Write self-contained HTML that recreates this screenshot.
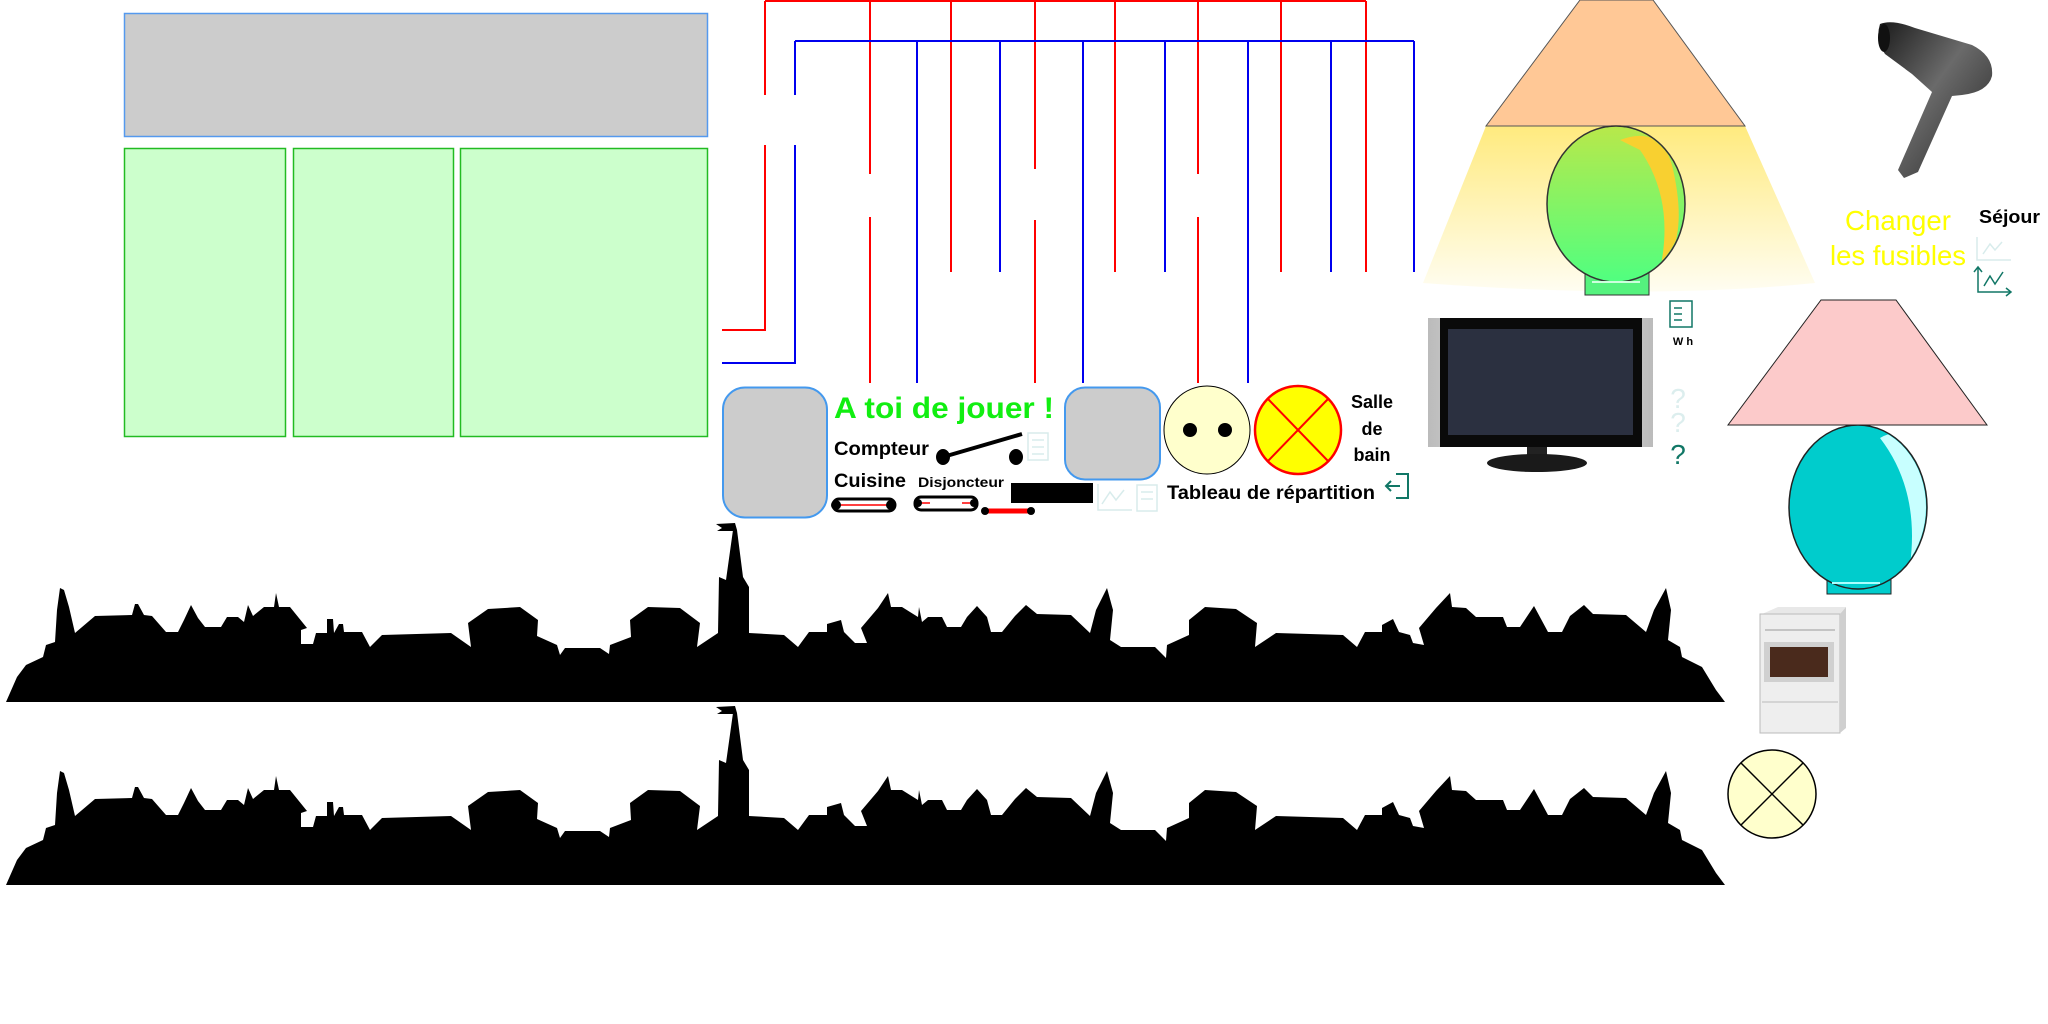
<!DOCTYPE html>
<html><head><meta charset="utf-8"><style>
html,body{margin:0;padding:0;background:#fff;width:2048px;height:1024px;overflow:hidden}
svg{display:block}
text{font-family:"Liberation Sans",Arial,sans-serif}
</style></head><body>
<svg width="2048" height="1024" viewBox="0 0 2048 1024" xmlns="http://www.w3.org/2000/svg">
<defs>
<linearGradient id="cone" x1="0" y1="0" x2="0" y2="1">
<stop offset="0" stop-color="#ffe870"/><stop offset="1" stop-color="#fffdf0"/></linearGradient>
<linearGradient id="glob" x1="0" y1="0" x2="0" y2="1">
<stop offset="0" stop-color="#b8e84a"/><stop offset="1" stop-color="#50ff80"/></linearGradient>
<linearGradient id="dry" x1="0" y1="0" x2="1" y2="1">
<stop offset="0" stop-color="#1a1a1a"/><stop offset="0.45" stop-color="#6a6a6a"/><stop offset="1" stop-color="#222"/></linearGradient>
<linearGradient id="spk" x1="0" y1="0" x2="1" y2="0">
<stop offset="0" stop-color="#bbb"/><stop offset="0.5" stop-color="#eee"/><stop offset="1" stop-color="#bbb"/></linearGradient>
<clipPath id="c1"><ellipse cx="1616" cy="204" rx="68" ry="77"/></clipPath>
<clipPath id="c2"><ellipse cx="1858" cy="507" rx="68" ry="81"/></clipPath>
<g id="sky">
<path fill="#000" d="M0,702 L6,702 L17,677 L26,665 L43,657 L46,645 L55,642 L57,610 L60,588 L64,590 L69,607 L75,633 L95,616 L132,615 L135,604 L138,604 L144,615 L152,616 L166,632 L178,632 L184,620 L191,605 L198,618 L205,627 L221,627 L227,617 L238,617 L244,622 L248,605 L253,616 L264,607 L274,607 L276,593 L279,607 L290,607 L307,628 L301,630 L301,644 L313,644 L316,633 L327,633 L327,619 L333,619 L334,633 L339,624 L343,624 L344,632 L362,632 L370,647 L382,635 L451,633 L471,647 L468,623 L488,609 L520,607 L538,620 L537,636 L557,645 L560,655 L565,648 L600,648 L609,654 L610,645 L631,637 L630,620 L648,607 L680,608 L700,623 L697,647 L718,633 L719,577 L726,580 L733,530 L735,523 L737,530 L743,577 L749,587 L749,633 L784,635 L798,647 L809,632 L827,632 L827,624 L841,620 L844,632 L855,643 L867,643 L861,628 L878,608 L888,593 L891,607 L902,607 L918,617 L919,607 L922,622 L928,617 L942,617 L947,627 L961,627 L967,617 L977,606 L987,617 L991,632 L1002,632 L1015,616 L1026,605 L1037,614 L1071,615 L1090,633 L1096,610 L1107,588 L1113,610 L1110,640 L1121,647 L1155,647 L1166,658 L1167,645 L1189,635 L1189,620 L1205,607 L1236,609 L1257,623 L1255,647 L1276,633 L1343,635 L1357,647 L1365,632 L1382,632 L1382,625 L1393,619 L1399,632 L1410,635 L1413,643 L1424,645 L1419,628 L1436,608 L1450,593 L1452,607 L1466,608 L1476,617 L1486,617 L1503,617 L1507,627 L1520,627 L1534,606 L1548,632 L1562,632 L1570,616 L1584,605 L1593,614 L1626,615 L1646,632 L1654,610 L1666,588 L1671,610 L1668,640 L1680,647 L1682,657 L1702,667 L1716,690 L1725,702 Z"/>
<path fill="#000" d="M735,523 L716,524 L722,528 L717,531 L735,531 Z"/>
</g>
</defs>

<rect x="124.5" y="13.5" width="583" height="123" fill="#cccccc" stroke="#5599ee" stroke-width="1.5"/>
<rect x="124.5" y="148.5" width="161" height="288" fill="#ccffcc" stroke="#22bb22" stroke-width="1.5"/>
<rect x="293.5" y="148.5" width="160" height="288" fill="#ccffcc" stroke="#22bb22" stroke-width="1.5"/>
<rect x="460.5" y="148.5" width="247" height="288" fill="#ccffcc" stroke="#22bb22" stroke-width="1.5"/>

<g fill="none" stroke-width="2">
<g stroke="#ff0000">
<line x1="765" y1="1" x2="1366" y2="1"/>
<line x1="765" y1="1" x2="765" y2="95"/><polyline points="765,145 765,330 722,330"/>
<line x1="870" y1="1" x2="870" y2="174"/><line x1="870" y1="217" x2="870" y2="383"/>
<line x1="951" y1="1" x2="951" y2="272"/>
<line x1="1035" y1="1" x2="1035" y2="169"/><line x1="1035" y1="220" x2="1035" y2="383"/>
<line x1="1115" y1="1" x2="1115" y2="272"/>
<line x1="1198" y1="1" x2="1198" y2="174"/><line x1="1198" y1="217" x2="1198" y2="383"/>
<line x1="1281" y1="1" x2="1281" y2="272"/>
<line x1="1366" y1="1" x2="1366" y2="272"/>
</g>
<g stroke="#0000ee">
<line x1="795" y1="41" x2="1414" y2="41"/>
<line x1="795" y1="41" x2="795" y2="95"/><polyline points="795,145 795,363 722,363"/>
<line x1="917" y1="41" x2="917" y2="383"/>
<line x1="1000" y1="41" x2="1000" y2="272"/>
<line x1="1083" y1="41" x2="1083" y2="383"/>
<line x1="1165" y1="41" x2="1165" y2="272"/>
<line x1="1248" y1="41" x2="1248" y2="383"/>
<line x1="1331" y1="41" x2="1331" y2="272"/>
<line x1="1414" y1="41" x2="1414" y2="272"/>
</g>
</g>

<rect x="723" y="387.5" width="104" height="130" rx="22" fill="#cccccc" stroke="#4499ee" stroke-width="2"/>
<rect x="1065" y="387.5" width="95" height="92" rx="20" fill="#cccccc" stroke="#4499ee" stroke-width="2"/>
<text x="834" y="418" font-size="30" font-weight="bold" fill="#11ee11" textLength="220" lengthAdjust="spacingAndGlyphs">A toi de jouer !</text>
<text x="834" y="455" font-size="19" font-weight="bold" fill="#000" textLength="95" lengthAdjust="spacingAndGlyphs">Compteur</text>
<text x="834" y="487" font-size="19" font-weight="bold" fill="#000" textLength="72" lengthAdjust="spacingAndGlyphs">Cuisine</text>
<text x="918" y="487" font-size="14" font-weight="bold" fill="#000" textLength="86" lengthAdjust="spacingAndGlyphs">Disjoncteur</text>
<line x1="943" y1="457" x2="1022" y2="434" stroke="#000" stroke-width="4"/>
<ellipse cx="943" cy="457" rx="7" ry="8" fill="#000"/>
<ellipse cx="1016" cy="457" rx="7" ry="8" fill="#000"/>
<g stroke="#d8ecec" fill="none" stroke-width="1.5">
<rect x="1028" y="433" width="20" height="27"/><line x1="1032" y1="440" x2="1044" y2="440"/><line x1="1032" y1="447" x2="1044" y2="447"/><line x1="1032" y1="454" x2="1044" y2="454"/>
<polyline points="1098,484 1098,510 1132,510"/><polyline points="1102,504 1110,492 1116,500 1124,490"/>
<rect x="1137" y="485" width="20" height="26"/><line x1="1141" y1="492" x2="1153" y2="492"/><line x1="1141" y1="499" x2="1153" y2="499"/>
</g>
<rect x="833" y="499" width="62" height="12" rx="6" fill="#fff" stroke="#000" stroke-width="3"/>
<line x1="836" y1="505" x2="892" y2="505" stroke="#ff0000" stroke-width="1.5"/>
<circle cx="836" cy="505" r="5" fill="#000"/><circle cx="891" cy="505" r="5" fill="#000"/>
<rect x="915" y="497" width="62" height="13" rx="6" fill="#fff" stroke="#000" stroke-width="3"/>
<line x1="920" y1="503" x2="930" y2="503" stroke="#ff0000" stroke-width="1.5"/><line x1="962" y1="503" x2="972" y2="503" stroke="#ff0000" stroke-width="1.5"/>
<circle cx="918" cy="503" r="4" fill="#000"/><circle cx="974" cy="503" r="4" fill="#000"/>
<line x1="985" y1="511" x2="1031" y2="511" stroke="#ff0000" stroke-width="5"/>
<circle cx="985" cy="511" r="4" fill="#000"/><circle cx="1031" cy="511" r="4" fill="#000"/>
<rect x="1011" y="483" width="82" height="20" fill="#000"/>
<ellipse cx="1207" cy="430" rx="43" ry="44" fill="#ffffcc" stroke="#000" stroke-width="1"/>
<circle cx="1190" cy="430" r="7" fill="#000"/><circle cx="1225" cy="430" r="7" fill="#000"/>
<ellipse cx="1298" cy="430" rx="43" ry="44" fill="#ffff00" stroke="#ff0000" stroke-width="2.5"/>
<line x1="1268" y1="399" x2="1328" y2="461" stroke="#ff0000" stroke-width="2"/>
<line x1="1328" y1="399" x2="1268" y2="461" stroke="#ff0000" stroke-width="2"/>
<text x="1372" y="408" font-size="18" font-weight="bold" text-anchor="middle">Salle</text>
<text x="1372" y="435" font-size="18" font-weight="bold" text-anchor="middle">de</text>
<text x="1372" y="461" font-size="18" font-weight="bold" text-anchor="middle">bain</text>
<text x="1167" y="499" font-size="19" font-weight="bold" textLength="208" lengthAdjust="spacingAndGlyphs">Tableau de répartition</text>
<g stroke="#117766" stroke-width="2" fill="none">
<polyline points="1396,474 1408,474 1408,498 1396,498"/><line x1="1386" y1="486" x2="1400" y2="486"/><polyline points="1391,481 1386,486 1391,491"/>
</g>

<!-- lamp 1 -->
<path d="M1486,126 L1745,126 L1815,283 Q1650,300 1423,283 Z" fill="url(#cone)" opacity="0.9"/>
<polygon points="1580,0 1653,0 1745,126 1486,126" fill="#ffc896" stroke="#555" stroke-width="1"/>
<rect x="1585" y="270" width="64" height="25" fill="#55f27e" stroke="#333" stroke-width="1"/>
<ellipse cx="1616" cy="204" rx="69" ry="78" fill="url(#glob)" stroke="#333" stroke-width="1.5"/>
<g clip-path="url(#c1)"><path d="M1620,140 Q1660,125 1672,165 Q1690,240 1660,270 Q1675,200 1640,150 Z" fill="#f8d030"/></g>
<line x1="1592" y1="282" x2="1640" y2="282" stroke="#ccffdd" stroke-width="2"/>

<!-- TV -->
<rect x="1428" y="318" width="225" height="129" fill="url(#spk)"/>
<rect x="1440" y="318" width="202" height="129" fill="#0a0a0a"/>
<rect x="1448" y="329" width="185" height="106" fill="#2b3040"/>
<rect x="1527" y="447" width="20" height="10" fill="#222"/>
<ellipse cx="1537" cy="463" rx="50" ry="9" fill="#1a1a1a"/>
<g stroke="#117766" stroke-width="1.5" fill="none">
<rect x="1670" y="301" width="22" height="26"/><line x1="1674" y1="308" x2="1682" y2="308"/><line x1="1674" y1="314" x2="1682" y2="314"/><line x1="1674" y1="320" x2="1682" y2="320"/>
</g>
<text x="1683" y="345" font-size="11" font-weight="bold" text-anchor="middle">W h</text>
<text x="1678" y="408" font-size="28" fill="#dceeee" text-anchor="middle">?</text>
<text x="1678" y="432" font-size="28" fill="#dceeee" text-anchor="middle">?</text>
<text x="1678" y="464" font-size="28" fill="#117766" text-anchor="middle">?</text>

<!-- lamp 2 -->
<rect x="1827" y="576" width="64" height="18" fill="#00cccc" stroke="#222" stroke-width="1"/>
<ellipse cx="1858" cy="507" rx="69" ry="82" fill="#00cccc" stroke="#222" stroke-width="1.5"/>
<g clip-path="url(#c2)"><path d="M1880,438 Q1910,420 1925,470 Q1935,530 1910,565 Q1920,490 1880,438 Z" fill="#c8ffff"/></g>
<line x1="1832" y1="583" x2="1880" y2="583" stroke="#aaffff" stroke-width="2"/>
<polygon points="1821,300 1896,300 1987,425 1728,425" fill="#fccaca" stroke="#222" stroke-width="1"/>

<!-- hair dryer -->
<path d="M1880,24 Q1892,19 1915,28 L1972,45 Q1994,56 1992,76 Q1988,92 1962,95 L1952,96 L1918,172 L1904,178 L1898,170 L1932,92 L1912,74 L1885,54 Q1875,40 1880,24 Z" fill="url(#dry)"/>
<ellipse cx="1884" cy="38" rx="6" ry="14" fill="#111"/>

<text x="1898" y="230" font-size="28" fill="#ffff00" text-anchor="middle" textLength="106" lengthAdjust="spacingAndGlyphs">Changer</text>
<text x="1898" y="265" font-size="28" fill="#ffff00" text-anchor="middle" textLength="136" lengthAdjust="spacingAndGlyphs">les fusibles</text>
<text x="1979" y="223" font-size="18" font-weight="bold" textLength="61" lengthAdjust="spacingAndGlyphs">Séjour</text>
<g fill="none" stroke-width="1.5">
<g stroke="#d8ecec"><polyline points="1977,237 1977,260 2011,260"/><polyline points="1983,254 1990,244 1995,250 2002,242"/></g>
<g stroke="#117766"><polyline points="1978,267 1978,292 2011,292"/><polyline points="1984,286 1990,276 1995,284 2003,272"/><polyline points="2006,288 2011,292 2006,296"/><polyline points="1974,272 1978,267 1982,272"/></g>
</g>

<!-- oven -->
<polygon points="1762,614 1778,607 1846,607 1840,614" fill="#e8e8e8"/>
<rect x="1760" y="614" width="80" height="119" fill="#eeeeee" stroke="#bbb" stroke-width="1"/>
<polygon points="1840,614 1846,607 1846,728 1840,733" fill="#cfcfcf"/>
<rect x="1764" y="642" width="70" height="40" fill="#d0d0d0"/>
<rect x="1770" y="647" width="58" height="30" fill="#4a2a1c"/>
<line x1="1762" y1="702" x2="1838" y2="702" stroke="#bbb"/>
<line x1="1765" y1="630" x2="1835" y2="630" stroke="#999"/>

<circle cx="1772" cy="794" r="44" fill="#ffffcc" stroke="#000" stroke-width="1.5"/>
<line x1="1741" y1="763" x2="1803" y2="825" stroke="#000" stroke-width="1.5"/>
<line x1="1803" y1="763" x2="1741" y2="825" stroke="#000" stroke-width="1.5"/>

<use href="#sky"/>
<use href="#sky" transform="translate(0,183)"/>
</svg>
</body></html>
